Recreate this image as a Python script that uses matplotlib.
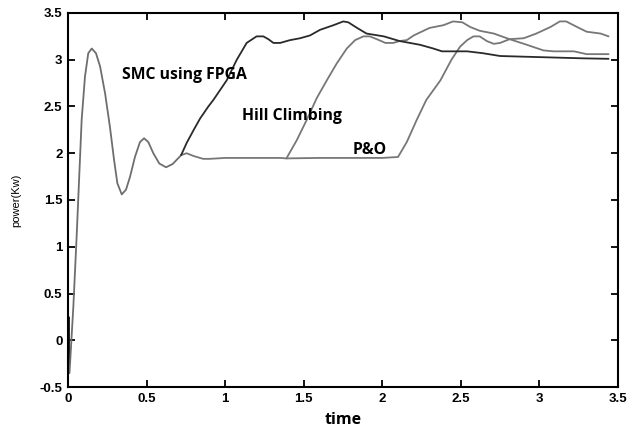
import matplotlib
matplotlib.use('Agg')
from matplotlib import pyplot as plt

# common transient (all methods share it until ~0.72 s)
t_common = [0.0, 0.004, 0.008, 0.013, 0.034, 0.055, 0.066, 0.087, 0.108, 0.129, 0.151,
            0.178, 0.204, 0.236, 0.267, 0.293, 0.314, 0.342, 0.369, 0.395, 0.426, 0.458,
            0.484, 0.511, 0.543, 0.581, 0.624, 0.666, 0.709, 0.72]
p_common = [-0.5, 0.25, -0.35, -0.25, 0.36, 1.11, 1.54, 2.36, 2.82, 3.07, 3.12,
            3.07, 2.93, 2.64, 2.28, 1.93, 1.68, 1.56, 1.61, 1.75, 1.96, 2.12,
            2.16, 2.12, 2.0, 1.89, 1.85, 1.885, 1.96, 1.98]

t_smc = [0.72, 0.755, 0.80, 0.84, 0.893, 0.925, 1.01, 1.074, 1.137, 1.20, 1.243, 1.275,
         1.307, 1.35, 1.413, 1.477, 1.54, 1.604, 1.69, 1.752, 1.784, 1.84, 1.90, 2.01,
         2.11, 2.24, 2.325, 2.38, 2.54, 2.64, 2.75, 2.96, 3.28, 3.44]
p_smc = [1.98, 2.11, 2.25, 2.37, 2.50, 2.57, 2.78, 3.0, 3.18, 3.25, 3.25, 3.22,
         3.18, 3.18, 3.21, 3.23, 3.26, 3.32, 3.37, 3.41, 3.40, 3.34, 3.28, 3.25,
         3.20, 3.16, 3.12, 3.09, 3.09, 3.07, 3.04, 3.03, 3.015, 3.01]

t_hill = [0.72, 0.755, 0.80, 0.86, 0.90, 1.0, 1.2, 1.35, 1.39, 1.456, 1.52, 1.583,
          1.647, 1.71, 1.774, 1.827, 1.88, 1.92, 1.965, 2.02, 2.07, 2.11, 2.156, 2.20,
          2.30, 2.39, 2.45, 2.51, 2.56, 2.62, 2.71, 2.81, 2.92, 3.025, 3.09, 3.22,
          3.30, 3.44]
p_hill = [1.98, 2.0, 1.97, 1.94, 1.94, 1.95, 1.95, 1.95, 1.945, 2.14, 2.36, 2.59,
          2.78, 2.96, 3.12, 3.21, 3.25, 3.25, 3.22, 3.18, 3.18, 3.20, 3.21, 3.26,
          3.34, 3.37, 3.41, 3.40, 3.35, 3.31, 3.28, 3.22, 3.16, 3.10, 3.09, 3.09,
          3.06, 3.06]

t_po = [1.39, 1.6, 1.8, 2.0, 2.10, 2.156, 2.22, 2.28, 2.37, 2.44, 2.495, 2.54, 2.58,
        2.62, 2.665, 2.71, 2.75, 2.81, 2.90, 2.98, 3.07, 3.13, 3.17, 3.24, 3.30, 3.39,
        3.44]
p_po = [1.945, 1.95, 1.95, 1.95, 1.96, 2.12, 2.36, 2.57, 2.78, 3.0, 3.14, 3.21, 3.25,
        3.25, 3.20, 3.17, 3.18, 3.22, 3.23, 3.28, 3.35, 3.41, 3.41, 3.35, 3.30, 3.28,
        3.25]

fig = plt.figure(figsize=(6.31, 4.34), dpi=100)
ax = fig.add_axes([68 / 631, 1 - 387 / 434, 550 / 631, 374 / 434])

kw = dict(lw=1.3, solid_joinstyle='round', solid_capstyle='round')
ax.plot(t_common[:3], p_common[:3], color='#222222', **kw)
ax.plot(t_common[2:], p_common[2:], color='#6e6e6e', **kw)
ax.plot(t_hill, p_hill, color='#777777', **kw)
ax.plot(t_po, p_po, color='#777777', **kw)
ax.plot(t_smc, p_smc, color='#2a2a2a', **kw)

ax.set_xlim(0, 3.5)
ax.set_ylim(-0.5, 3.5)
ax.set_xticks([0, 0.5, 1, 1.5, 2, 2.5, 3, 3.5])
ax.set_xticklabels(['0', '0.5', '1', '1.5', '2', '2.5', '3', '3.5'])
ax.set_yticks([-0.5, 0, 0.5, 1, 1.5, 2, 2.5, 3, 3.5])
ax.set_yticklabels(['-0.5', '0', '0.5', '1', '1.5', '2', '2.5', '3', '3.5'])
ax.tick_params(direction='in', length=5, width=1.3, top=True, right=True,
               labelsize=9.5, pad=4)
for lab in ax.get_xticklabels() + ax.get_yticklabels():
    lab.set_fontweight('bold')
    lab.set_family('Liberation Sans')
for s in ax.spines.values():
    s.set_linewidth(1.5)

ax.text(0.344, 2.84, 'SMC using FPGA', fontsize=11.3, fontweight='bold',
        family='Open Sans', va='center', ha='left')
ax.text(1.107, 2.40, 'Hill Climbing', fontsize=11.3, fontweight='bold',
        family='Open Sans', va='center', ha='left')
ax.text(1.81, 2.035, 'P&O', fontsize=11.3, fontweight='bold',
        family='Open Sans', va='center', ha='left')

ax.set_xlabel('time', fontsize=11.5, fontweight='bold', family='Open Sans', labelpad=5)
ax.set_ylabel('power(Kw)', fontsize=8, family='Liberation Sans', labelpad=13)

fig.savefig('out.png', dpi=100)
